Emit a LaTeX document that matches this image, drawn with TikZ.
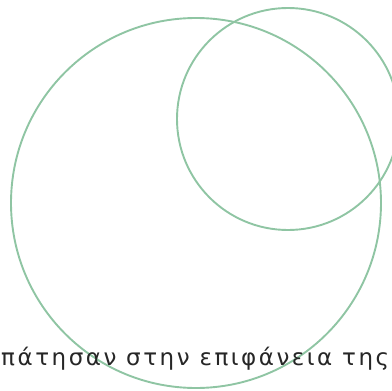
\documentclass[tikz,border=0pt]{standalone}
\usepackage{fontspec}
\newfontfamily\greekfont[LetterSpace=11]{DejaVu Sans}
\definecolor{vongxanh}{RGB}{143,197,163}
\tikzset{
  vong/.style={draw=vongxanh, line width=1.9pt},
  chu/.style={font=\greekfont\fontsize{23}{25}\selectfont, text=black!85, inner sep=0pt, anchor=base west}
}
\begin{document}
\begin{tikzpicture}[x=1pt, y=-1pt]
    % 1. Giới hạn vùng hiển thị
    \useasboundingbox (0,0) rectangle (392,391);
    \clip (0,0) rectangle (392,391);

    % 2. Hai đường tròn
    \coordinate (tamLon) at (196,203);
    \coordinate (tamNho) at (288,119);
    \draw[vong] (tamLon) circle[radius=185];
    \draw[vong] (tamNho) circle[radius=111];

    % 3. Dòng chữ
    \node[chu] (dong) at (1,365) {πάτησαν στην επιφάνεια της};
\end{tikzpicture}
\end{document}
